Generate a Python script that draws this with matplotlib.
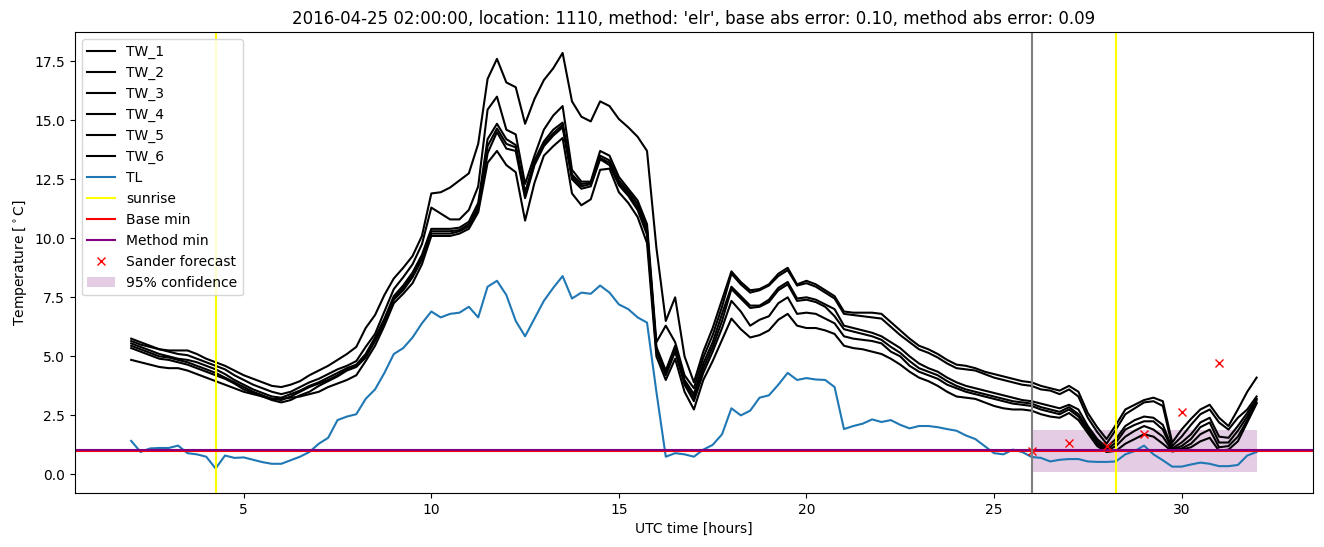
import numpy as np
import matplotlib
matplotlib.use("Agg")
import matplotlib.pyplot as plt

# UTC hours, 15 minute steps
hours = np.arange(2.0, 32.01, 0.25)

tw_1 = [5.75, 5.6, 5.45, 5.3, 5.25, 5.25, 5.25, 5.1, 4.9, 4.75, 4.6, 4.4, 4.2, 4.05, 3.9, 3.75,
        3.7, 3.8, 3.95, 4.2, 4.4, 4.6, 4.85, 5.1, 5.4, 6.2, 6.75, 7.6, 8.3, 8.75, 9.25, 10.1,
        11.9, 11.95, 12.15, 12.45, 12.75, 14.0, 16.75, 17.6, 16.6, 16.4, 14.85, 15.9, 16.7, 17.2,
        17.85, 15.8, 15.15, 14.95, 15.8, 15.6, 15.05, 14.7, 14.3, 13.7, 9.6, 6.5, 7.5, 5.0,
        3.9, 5.2, 6.2, 7.4, 8.6, 8.15, 7.8, 7.85, 8.05, 8.5, 8.75, 8.05, 8.2, 8.05, 7.8, 7.55,
        6.9, 6.85, 6.85, 6.85, 6.8, 6.45, 6.1, 5.75, 5.45, 5.3, 5.1, 4.85, 4.65, 4.6, 4.5, 4.35,
        4.25, 4.15, 4.05, 3.95, 3.9, 3.75, 3.65, 3.55, 3.75, 3.5, 2.6, 2.0, 1.5, 2.1, 2.75, 2.95,
        3.15, 3.25, 3.1, 1.35, 1.9, 2.35, 2.75, 2.95, 2.4, 2.05, 2.75, 3.5, 4.1]
tw_2 = [5.65, 5.5, 5.4, 5.3, 5.2, 5.1, 5.05, 4.9, 4.75, 4.6, 4.45, 4.2, 4.0, 3.8, 3.65, 3.5,
        3.4, 3.5, 3.7, 3.9, 4.05, 4.25, 4.45, 4.6, 4.8, 5.4, 5.95, 6.9, 7.85, 8.35, 8.9, 9.75,
        11.3, 11.05, 10.8, 10.8, 11.2, 12.2, 15.45, 16.0, 14.6, 14.4, 12.3, 13.5, 14.6, 15.2,
        15.6, 12.9, 12.4, 12.4, 13.7, 13.5, 12.6, 12.1, 11.6, 10.6, 5.6, 6.3, 5.6, 4.2,
        3.65, 4.95, 5.9, 7.1, 8.5, 8.05, 7.7, 7.8, 8.0, 8.4, 8.65, 8.0, 8.1, 7.95, 7.7, 7.45,
        6.8, 6.75, 6.7, 6.65, 6.6, 6.25, 5.9, 5.6, 5.3, 5.15, 4.95, 4.7, 4.5, 4.45, 4.4, 4.25,
        4.1, 4.0, 3.9, 3.8, 3.75, 3.6, 3.55, 3.4, 3.6, 3.3, 2.4, 1.8, 1.3, 1.9, 2.55, 2.8,
        3.05, 3.1, 2.9, 1.2, 1.6, 2.1, 2.55, 2.75, 2.2, 1.9, 2.4, 2.75, 3.3]
tw_3 = [5.55, 5.4, 5.25, 5.1, 5.0, 4.9, 4.85, 4.75, 4.6, 4.45, 4.25, 4.0, 3.8, 3.6, 3.45, 3.3,
        3.25, 3.4, 3.55, 3.75, 3.9, 4.1, 4.3, 4.5, 4.65, 5.1, 5.8, 6.6, 7.55, 8.0, 8.55, 9.3,
        10.4, 10.4, 10.4, 10.45, 10.7, 11.5, 14.2, 14.85, 14.2, 13.95, 11.95, 13.3, 14.1, 14.6,
        14.9, 12.7, 12.3, 12.35, 13.5, 13.3, 12.45, 12.0, 11.45, 10.4, 5.4, 4.4, 5.45, 4.0,
        3.4, 4.7, 5.6, 6.8, 7.95, 7.55, 7.15, 7.15, 7.4, 7.9, 8.15, 7.45, 7.5, 7.4, 7.2, 7.0,
        6.3, 6.2, 6.1, 6.0, 5.85, 5.6, 5.35, 5.0, 4.7, 4.5, 4.35, 4.1, 3.9, 3.75, 3.65, 3.55,
        3.45, 3.35, 3.25, 3.15, 3.1, 3.0, 2.9, 2.8, 2.95, 2.75, 2.05, 1.5, 1.15, 1.5, 2.05, 2.3,
        2.45, 2.4, 2.1, 1.1, 1.35, 1.7, 2.2, 2.4, 1.6, 1.55, 2.05, 2.6, 3.2]
tw_4 = [5.45, 5.3, 5.15, 5.0, 4.95, 4.85, 4.75, 4.6, 4.45, 4.3, 4.1, 3.9, 3.7, 3.5, 3.35, 3.2,
        3.15, 3.3, 3.5, 3.7, 3.85, 4.0, 4.2, 4.45, 4.6, 5.0, 5.7, 6.5, 7.45, 7.9, 8.45, 9.2,
        10.3, 10.3, 10.3, 10.35, 10.6, 11.35, 13.9, 14.65, 14.0, 13.85, 11.8, 13.2, 14.0, 14.45,
        14.8, 12.6, 12.2, 12.3, 13.4, 13.2, 12.35, 11.9, 11.3, 10.3, 5.3, 4.3, 5.3, 3.9,
        3.25, 4.5, 5.4, 6.5, 7.85, 7.45, 7.05, 7.1, 7.3, 7.8, 8.05, 7.35, 7.4, 7.3, 7.1, 6.7,
        6.15, 6.05, 5.95, 5.85, 5.7, 5.4, 5.15, 4.8, 4.5, 4.35, 4.2, 3.95, 3.75, 3.6, 3.5, 3.4,
        3.3, 3.2, 3.1, 3.05, 3.0, 2.85, 2.75, 2.65, 2.85, 2.55, 1.95, 1.4, 1.05, 1.35, 1.9, 2.1,
        2.25, 2.25, 1.9, 1.05, 1.2, 1.5, 2.0, 2.2, 1.35, 1.35, 1.85, 2.45, 3.15]
tw_5 = [5.35, 5.2, 5.05, 4.9, 4.85, 4.75, 4.65, 4.5, 4.35, 4.2, 4.05, 3.85, 3.6, 3.45, 3.3, 3.15,
        3.05, 3.15, 3.35, 3.5, 3.75, 3.95, 4.15, 4.4, 4.55, 4.95, 5.65, 6.4, 7.4, 7.8, 8.35, 9.1,
        10.2, 10.2, 10.2, 10.3, 10.5, 11.2, 13.6, 14.5, 13.8, 13.7, 11.7, 13.1, 13.9, 14.35,
        14.7, 12.5, 12.1, 12.2, 13.35, 13.1, 12.25, 11.8, 11.2, 10.15, 5.2, 4.2, 5.2, 3.8,
        3.1, 4.3, 5.2, 6.2, 7.35, 6.9, 6.3, 6.55, 6.7, 7.25, 7.5, 6.8, 6.85, 6.8, 6.6, 6.4,
        5.85, 5.75, 5.7, 5.65, 5.55, 5.2, 5.0, 4.6, 4.35, 4.2, 4.05, 3.8, 3.65, 3.5, 3.4, 3.3,
        3.2, 3.1, 3.0, 2.95, 2.9, 2.75, 2.65, 2.55, 2.75, 2.45, 1.85, 1.3, 1.0, 1.2, 1.6, 1.85,
        2.05, 1.9, 1.6, 1.0, 1.1, 1.3, 1.7, 1.9, 1.15, 1.2, 1.6, 2.3, 3.05]
tw_6 = [4.85, 4.75, 4.65, 4.55, 4.5, 4.5, 4.4, 4.25, 4.1, 3.95, 3.8, 3.65, 3.5, 3.4, 3.3, 3.2,
        3.2, 3.25, 3.3, 3.4, 3.5, 3.7, 3.85, 4.0, 4.2, 4.8, 5.45, 6.3, 7.25, 7.65, 8.1, 8.9,
        10.1, 10.1, 10.1, 10.2, 10.4, 11.1, 13.2, 13.7, 13.1, 12.8, 10.75, 12.35, 13.5, 13.9,
        14.25, 11.9, 11.4, 11.65, 12.9, 12.95, 11.95, 11.5, 10.9, 9.8, 5.0, 4.0, 4.9, 3.5,
        2.75, 4.0, 4.8, 5.7, 6.6, 6.15, 5.8, 5.9, 6.1, 6.55, 6.8, 6.3, 6.2, 6.2, 6.1, 5.95,
        5.45, 5.35, 5.3, 5.2, 5.1, 4.9, 4.65, 4.35, 4.1, 3.95, 3.75, 3.5, 3.3, 3.25, 3.2, 3.05,
        2.9, 2.8, 2.75, 2.75, 2.7, 2.55, 2.45, 2.4, 2.6, 2.3, 1.75, 1.2, 0.95, 1.0, 1.3, 1.5,
        1.7, 1.6, 1.3, 0.97, 1.05, 1.15, 1.4, 1.55, 1.0, 1.05, 1.4, 2.2, 3.0]
tl = [1.42, 0.95, 1.1, 1.12, 1.12, 1.22, 0.9, 0.85, 0.75, 0.25, 0.8, 0.7, 0.72, 0.62, 0.52, 0.45,
      0.45, 0.6, 0.75, 0.95, 1.3, 1.55, 2.3, 2.45, 2.55, 3.2, 3.6, 4.3, 5.1, 5.35, 5.8, 6.4,
      6.9, 6.65, 6.8, 6.85, 7.1, 6.65, 7.95, 8.2, 7.6, 6.5, 5.85, 6.6, 7.35, 7.9,
      8.4, 7.45, 7.7, 7.65, 8.0, 7.7, 7.2, 7.0, 6.65, 6.43, 3.5, 0.75, 0.9, 0.85,
      0.75, 1.05, 1.25, 1.7, 2.8, 2.5, 2.7, 3.25, 3.35, 3.8, 4.3, 4.0, 4.08, 4.02, 4.0, 3.7,
      1.92, 2.05, 2.15, 2.33, 2.22, 2.3, 2.1, 1.95, 2.05, 2.05, 2.0, 1.92, 1.85, 1.65, 1.5, 1.2,
      0.9, 0.85, 1.05, 0.95, 0.74, 0.7, 0.55, 0.62, 0.65, 0.65, 0.55, 0.53, 0.53, 0.55, 0.85, 0.99,
      1.22, 0.85, 0.6, 0.33, 0.33, 0.42, 0.5, 0.45, 0.35, 0.35, 0.4, 0.8, 0.95]

sunrise = [4.26, 28.24]
forecast_start = 26.0
base_min = 1.01
method_min = 1.02
sander_hours = [26, 27, 28, 29, 30, 31]
sander_vals = [1.0, 1.35, 1.22, 1.72, 2.66, 4.73]
conf_hours = [26.0, 32.0]
conf_low = [0.1, 0.1]
conf_high = [1.9, 1.9]

fig = plt.figure(figsize=(13.24, 5.47), dpi=100)
ax = fig.add_axes([0.0566, 0.0987, 0.935, 0.8428])

for i, tw in enumerate([tw_1, tw_2, tw_3, tw_4, tw_5, tw_6]):
    ax.plot(hours, tw, color='black', linewidth=1.5, label=f'TW_{i + 1}')
ax.plot(hours, tl, color='tab:blue', linewidth=1.5, label='TL')
ax.axvline(sunrise[0], color='yellow', linewidth=1.5, label='sunrise')
ax.axvline(sunrise[1], color='yellow', linewidth=1.5)
ax.axhline(base_min, color='red', linewidth=1.5, label='Base min')
ax.axhline(method_min, color='purple', linewidth=1.5, label='Method min')
ax.plot(sander_hours, sander_vals, 'x', color='red', label='Sander forecast')
ax.fill_between(conf_hours, conf_low, conf_high, color='purple', alpha=0.2,
                linewidth=0, label='95% confidence')
ax.axvline(forecast_start, color='gray', linewidth=1.5)

ax.set_title("2016-04-25 02:00:00, location: 1110, method: 'elr', "
             "base abs error: 0.10, method abs error: 0.09")
ax.set_xlabel('UTC time [hours]')
ax.set_ylabel(r'Temperature [$^\circ$C]')
ax.legend(loc='upper left')

fig.savefig('out.png', dpi=100)
